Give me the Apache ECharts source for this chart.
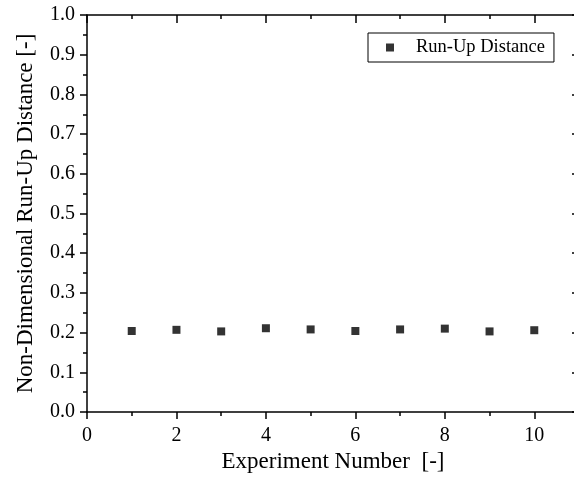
<!DOCTYPE html>
<html>
<head>
<meta charset="utf-8">
<script src="https://cdn.jsdelivr.net/npm/echarts@6/dist/echarts.min.js"></script>
<style>
  html, body { margin: 0; padding: 0; background: #fff; overflow: hidden; }
  /* the frame runs slightly past the right edge of the window */
  #chart { width: 590px; height: 487px; }
</style>
</head>
<body>
<div id="chart"></div>
<script>
// Experiment numbers and measured non-dimensional run-up distances
const experiments = [1, 2, 3, 4, 5, 6, 7, 8, 9, 10];
const runUpDistance = [0.204, 0.207, 0.203, 0.211, 0.208, 0.204, 0.208, 0.210, 0.203, 0.206];
const seriesName = 'Run-Up Distance';
const xTitle = 'Experiment Number  [-]';
const yTitle = 'Non-Dimensional Run-Up Distance [-]';

const FONT = '"Liberation Serif", "Times New Roman", serif';
const lineStyle = { color: '#000', width: 1.5 };

const points = experiments.map((x, i) => [x, runUpDistance[i]]);

const chart = echarts.init(document.getElementById('chart'), null, { renderer: 'canvas' });

chart.setOption({
  animation: false,
  backgroundColor: '#fff',
  grid: { left: 87, top: 15, right: 11, bottom: 75, show: false },
  legend: {
    data: [seriesName],
    left: 368,
    top: 33,
    orient: 'vertical',
    icon: 'rect',
    itemWidth: 8,
    itemHeight: 8,
    padding: [5, 9, 5, 18],
    borderColor: '#000',
    borderWidth: 1,
    backgroundColor: '#fff',
    textStyle: { fontFamily: FONT, fontSize: 18.5, color: '#000', padding: [0, 0, 0, 17] }
  },
  xAxis: [
    {
      type: 'value', position: 'bottom', min: 0, max: 11, interval: 2,
      name: xTitle, nameLocation: 'middle', nameGap: 34,
      nameTextStyle: { fontFamily: FONT, fontSize: 23, color: '#000' },
      axisLine: { show: true, onZero: false, lineStyle },
      axisTick: { show: true, inside: false, length: 7, lineStyle },
      minorTick: { show: true, splitNumber: 2, length: 4, lineStyle },
      axisLabel: { fontFamily: FONT, fontSize: 20, color: '#000', margin: 14, showMaxLabel: false },
      splitLine: { show: false }
    },
    {
      type: 'value', position: 'top', min: 0, max: 11, interval: 2,
      axisLine: { show: true, onZero: false, lineStyle },
      axisTick: { show: true, inside: true, length: 8, lineStyle },
      minorTick: { show: true, splitNumber: 2, length: 4, lineStyle },
      axisLabel: { show: false },
      splitLine: { show: false }
    }
  ],
  yAxis: [
    {
      type: 'value', position: 'left', min: 0, max: 1, interval: 0.1,
      name: yTitle, nameLocation: 'middle', nameGap: 50,
      nameTextStyle: { fontFamily: FONT, fontSize: 23, color: '#000' },
      axisLine: { show: true, onZero: false, lineStyle },
      axisTick: { show: true, inside: false, length: 7, lineStyle },
      minorTick: { show: true, splitNumber: 2, length: 4, lineStyle },
      axisLabel: { fontFamily: FONT, fontSize: 20, color: '#000', margin: 12,
        formatter: v => v.toFixed(1) },
      splitLine: { show: false }
    },
    {
      type: 'value', position: 'right', min: 0, max: 1, interval: 0.1,
      axisLine: { show: true, onZero: false, lineStyle },
      axisTick: { show: true, inside: true, length: 7, lineStyle },
      minorTick: { show: true, splitNumber: 2, length: 4, lineStyle },
      axisLabel: { show: false },
      splitLine: { show: false }
    }
  ],
  series: [
    {
      name: seriesName,
      type: 'scatter',
      xAxisIndex: 0,
      yAxisIndex: 0,
      symbol: 'rect',
      symbolSize: 8,
      itemStyle: { color: '#000' },
      data: points
    }
  ]
});
</script>
</body>
</html>
